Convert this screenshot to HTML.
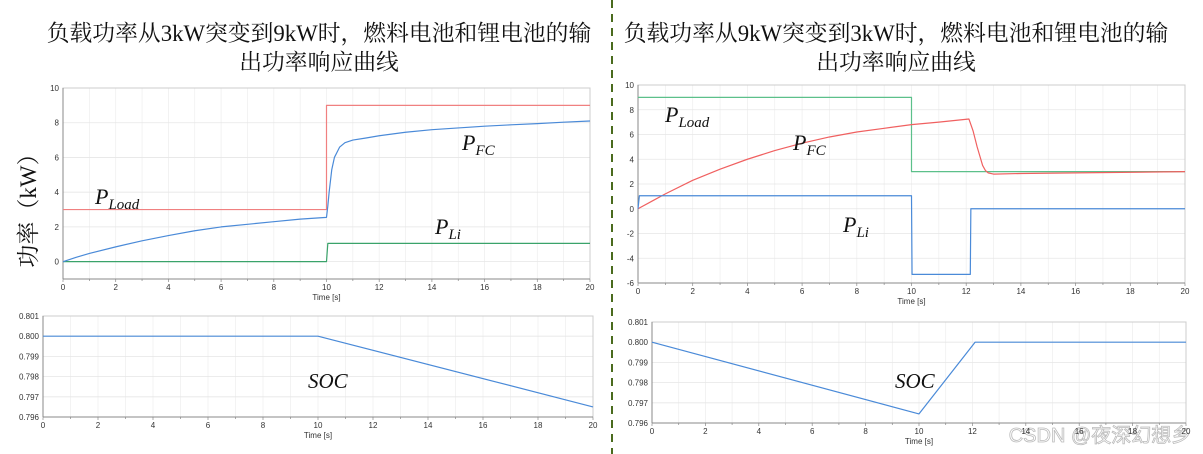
<!DOCTYPE html>
<html><head><meta charset="utf-8"><style>
body{margin:0;background:#fff;width:1203px;height:454px;overflow:hidden}
svg{display:block}
.t{font-family:"Liberation Serif","Noto Serif CJK SC",serif;font-size:22.8px;fill:#111}
.tk{font-family:"Liberation Sans",sans-serif;font-size:8px;fill:#333}
.an{font-family:"Liberation Serif",serif;font-style:italic;fill:#111}
</style></head><body>
<svg id="s" width="1203" height="454">
<text class="t" x="319" y="41" text-anchor="middle">负载功率从3kW突变到9kW时，燃料电池和锂电池的输</text>
<text class="t" x="319" y="70" text-anchor="middle">出功率响应曲线</text>
<text class="t" x="896" y="41" text-anchor="middle">负载功率从9kW突变到3kW时，燃料电池和锂电池的输</text>
<text class="t" x="896" y="70" text-anchor="middle">出功率响应曲线</text>
<line x1="612" y1="0" x2="612" y2="454" stroke="#4a6b1e" stroke-width="2" stroke-dasharray="8,6"/>
<text class="t" transform="translate(36,205) rotate(-90)" text-anchor="middle" style="font-size:23px">功率（kW）</text>
<text x="1100" y="442" text-anchor="middle" style="font-family:'Liberation Sans','Noto Sans CJK SC',sans-serif;font-size:20px;fill:#fff;stroke:#bbb;stroke-width:0.8">CSDN @夜深幻想乡</text>
</svg>
<script>
// Left top
const lT=[0,0.5,1,2,3,4,5,6,7,8,9,10,10.05,10.1,10.2,10.3,10.4,10.5,10.7,11,11.5,12,13,14,15,16,17,18,19,20];
const lFC=[0,0.25,0.47,0.85,1.2,1.5,1.78,2.0,2.15,2.3,2.45,2.55,3.2,4,5.3,6,6.3,6.6,6.85,7.0,7.12,7.25,7.45,7.6,7.7,7.8,7.88,7.95,8.03,8.1];
const lLoadT=[0,10,10,20], lLoad=[3,3,9,9];
const lLiT=[0,10,10.05,20], lLi=[0,0,1.05,1.05];
// Right top
const rLoadT=[0,10,10,20], rLoad=[9,9,3,3];
const rFCT=[0,0.5,1,2,3,4,5,6,7,8,9,10,11,12.1,12.25,12.4,12.6,12.7,12.8,13,14,16,20];
const rFC=[0,0.6,1.2,2.3,3.2,4.0,4.7,5.3,5.8,6.2,6.5,6.8,7.0,7.25,6.3,5,3.5,3.1,2.9,2.8,2.85,2.9,3.0];
const rLiT=[0,0.05,10,10.02,12.15,12.17,20], rLi=[0,1.05,1.05,-5.3,-5.3,0,0];
// SOC
const lSocT=[0,10,20], lSoc=[0.8,0.8,0.7965];
const rSocT=[0,10,12.1,20], rSoc=[0.8,0.79645,0.8,0.8];
const xTicks=[0,2,4,6,8,10,12,14,16,18,20];
const lYTicks=[0,2,4,6,8,10], rYTicks=[-6,-4,-2,0,2,4,6,8,10];
const socTicks=[0.796,0.797,0.798,0.799,0.8,0.801];

const S=document.getElementById('s'),NS='http://www.w3.org/2000/svg';
function el(t,a,p){const e=document.createElementNS(NS,t);for(const k in a)e.setAttribute(k,a[k]);(p||S).appendChild(e);return e;}
function panel(name,x0,x1,ymin,ymax,yTop,yBot,yt,fmt){
  const g=el('g',{});
  
  
  const X=t=>x0+(t-0)/20*(x1-x0), Y=v=>yBot-(v-ymin)/(ymax-ymin)*(yBot-yTop);
  for(let t=0;t<=20;t++){const l=el('line',{x1:X(t),x2:X(t),y1:yTop,y2:yBot,stroke:'#eee','stroke-width':0.7},g);
    
    el('line',{x1:X(t),x2:X(t),y1:yBot,y2:yBot+(t%2?2:3),stroke:'#888','stroke-width':0.7},g);}
  yt.forEach(v=>{const l=el('line',{x1:x0,x2:x1,y1:Y(v),y2:Y(v),stroke:'#e6e6e6','stroke-width':0.8},g);
    
    const tx=el('text',{x:x0-4,y:Y(v)+3,'text-anchor':'end',class:'tk'},g);tx.textContent=fmt(v);
    });
  el('rect',{x:x0,y:yTop,width:x1-x0,height:yBot-yTop,fill:'none',stroke:'#ccc','stroke-width':1},g);
  el('line',{x1:x0,x2:x0,y1:yTop,y2:yBot,stroke:'#888'},g);
  el('line',{x1:x0,x2:x1,y1:yBot,y2:yBot,stroke:'#888'},g);
  xTicks.forEach(t=>{const tx=el('text',{x:X(t),y:yBot+11,'text-anchor':'middle',class:'tk'},g);tx.textContent=t;
    });
  const xl=el('text',{x:(x0+x1)/2,y:yBot+21,'text-anchor':'middle',class:'tk'},g);xl.textContent='Time [s]';
  
  return {g,line:(T,V,c,n)=>{const p=el('polyline',{points:T.map((t,i)=>X(t)+','+Y(V[i])).join(' '),fill:'none',stroke:c,'stroke-width':1.2,'stroke-linejoin':'round'},g);
    }};
}
const f0=v=>String(v), f3=v=>v.toFixed(3);
const A=panel('left-power-chart',63,590,-1,10,88,279,lYTicks,f0);
A.line(lLoadT,lLoad,'#f08080','line-p-load');A.line(lLiT,lLi,'#3aa36a','line-p-li');A.line(lT,lFC,'#4a8ad8','line-p-fc');
const B=panel('right-power-chart',638,1185,-6,10,85,283,rYTicks,f0);
B.line(rLoadT,rLoad,'#5cc08a','line-p-load');B.line(rFCT,rFC,'#f06060','line-p-fc');B.line(rLiT,rLi,'#4a8ad8','line-p-li');
const C=panel('left-soc-chart',43,593,0.796,0.801,316,417,socTicks,f3);C.line(lSocT,lSoc,'#4a8ad8','line-soc');
const D=panel('right-soc-chart',652,1186,0.796,0.801,322,423,socTicks,f3);D.line(rSocT,rSoc,'#4a8ad8','line-soc');
function ann(x,y,main,sub,n,fs){const t=el('text',{x:x,y:y,class:'an','font-size':fs||22});
  
  t.appendChild(document.createTextNode(main));
  if(sub){const s=el('tspan',{'font-size':15,dy:5},t);s.textContent=sub;}}
ann(95,204,'P','Load','label-p-load-left');ann(462,150,'P','FC','label-p-fc-left');ann(435,234,'P','Li','label-p-li-left');
ann(665,122,'P','Load','label-p-load-right');ann(793,150,'P','FC','label-p-fc-right');ann(843,232,'P','Li','label-p-li-right');
ann(308,388,'SOC','', 'label-soc-left',21);ann(895,388,'SOC','','label-soc-right',21);
</script>
</body></html>
